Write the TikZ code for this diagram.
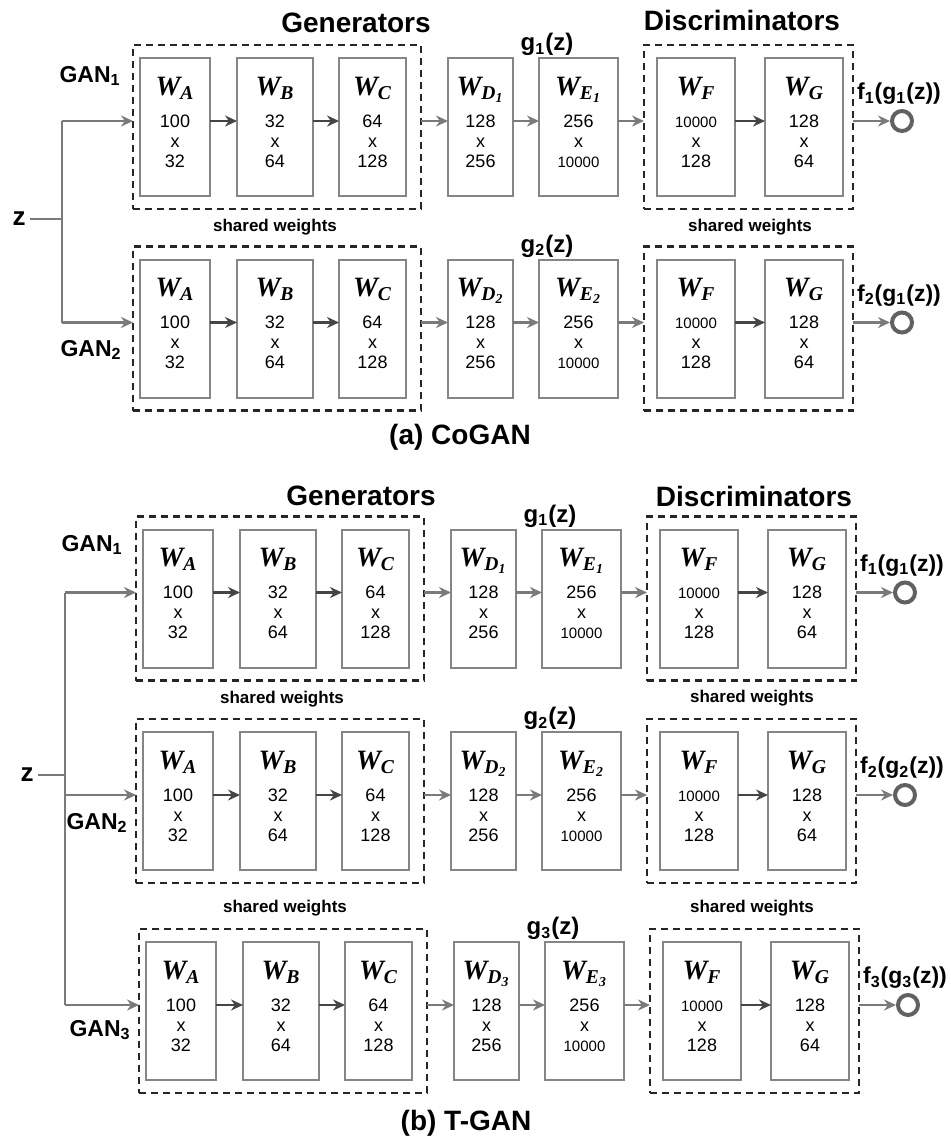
\documentclass[tikz,border=0pt]{standalone}
\usepackage{fontspec}
\setmainfont{Liberation Sans}
\newfontfamily\wserif{Liberation Serif}
\usetikzlibrary{arrows.meta,calc,positioning,fit}

\definecolor{boxgray}{HTML}{858585}
\definecolor{linegray}{HTML}{7A7A7A}
\definecolor{arrowdark}{HTML}{454545}
\definecolor{dashblack}{HTML}{262626}

\newcommand{\wl}[1]{\smash{\wserif\fontsize{14}{16}\selectfont\bfseries\itshape W\textsubscript{#1}}}
\newcommand{\smallnum}[1]{{\fontsize{7.5}{10}\selectfont #1}}
\newcommand{\wcell}[3]{\begin{tabular}[t]{@{}c@{}}\wl{#1}\\[6pt]#2\\x\\#3\end{tabular}}

% one GAN row: prefix, x, y, index, output label
\newcommand{\ganrow}[5]{%
  \node[wbox, minimum width=35pt] (#1a) at (#2,#3) {\wcell{A}{100}{32}};
  \node[wbox, minimum width=38pt, right=13.5pt of #1a] (#1b) {\wcell{B}{32}{64}};
  \node[wbox, minimum width=33.5pt, right=13pt of #1b] (#1c) {\wcell{C}{64}{128}};
  \node[wbox, minimum width=32.5pt, right=21pt of #1c] (#1d) {\wcell{D\textsubscript{#4}}{128}{256}};
  \node[wbox, minimum width=39.5pt, right=13pt of #1d] (#1e) {\wcell{E\textsubscript{#4}}{256}{\smallnum{10000}}};
  \node[wbox, minimum width=39pt, right=19.5pt of #1e] (#1f) {\wcell{F}{\smallnum{10000}}{128}};
  \node[wbox, minimum width=39pt, right=15pt of #1f] (#1g) {\wcell{G}{128}{64}};
  \node[dbox, fit=(#1a)(#1c), inner xsep=5.5pt, xshift=2pt] (#1gen) {};
  \node[dbox, fit=(#1f)(#1g), inner xsep=5.75pt, xshift=-0.75pt] (#1dis) {};
  \coordinate (#1in) at ([yshift=3pt]#1gen.west);
  \node[outc] (#1out) at ([xshift=24.5pt, yshift=3pt]#1dis.east) {};
  \node[flab, above=1pt of #1out, xshift=-1.5pt] {#5};
  \node[glab, anchor=south] at ([xshift=4pt]#1e.north west) {g\textsubscript{#4}(z)};
  \draw[darkflow] ([yshift=3pt]#1a.east) -- ([yshift=3pt]#1b.west);
  \draw[darkflow] ([yshift=3pt]#1b.east) -- ([yshift=3pt]#1c.west);
  \draw[flow] ([yshift=3pt]#1gen.east) -- ([yshift=3pt]#1d.west);
  \draw[flow] ([yshift=3pt]#1d.east) -- ([yshift=3pt]#1e.west);
  \draw[flow] ([yshift=3pt]#1e.east) -- ([yshift=3pt]#1dis.west);
  \draw[darkflow] ([yshift=3pt]#1f.east) -- ([yshift=3pt]#1g.west);
  \draw[flow] ([yshift=3pt]#1dis.east) -- (#1out);
}

\begin{document}
\begin{tikzpicture}[x=0.5pt, y=-0.5pt,
  wbox/.style={draw=boxgray, line width=1pt, inner sep=0pt, outer sep=0pt, text height=18.5pt, text depth=50.5pt, font=\fontsize{9}{10}\selectfont},
  dbox/.style={draw=dashblack, line width=1.3pt, dash pattern=on 3.5pt off 2.5pt, inner ysep=6.5pt, outer sep=0pt},
  flow/.style={-{Stealth[length=6pt, width=5.5pt]}, draw=linegray, line width=1.1pt},
  darkflow/.style={-{Stealth[length=6pt, width=5.5pt]}, draw=arrowdark, line width=1.3pt},
  wire/.style={draw=linegray, line width=1.1pt},
  outc/.style={circle, draw=arrowdark!85, line width=2pt, minimum size=10pt, inner sep=0pt},
  flab/.style={inner sep=1pt, font=\bfseries\fontsize{11.5}{14}\selectfont},
  glab/.style={inner sep=1pt, font=\bfseries\fontsize{12}{14}\selectfont},
  title/.style={font=\bfseries\fontsize{14}{16}\selectfont},
  share/.style={font=\bfseries\fontsize{8.5}{10}\selectfont},
  ganlab/.style={anchor=east, inner sep=0pt, font=\bfseries\fontsize{11.5}{13}\selectfont},
  zlab/.style={inner sep=2pt, font=\bfseries\fontsize{13}{15}\selectfont}]
  \useasboundingbox (0,0) rectangle (950,1136);

  % (a) CoGAN
  \ganrow{c1}{175}{127}{1}{f\textsubscript{1}(g\textsubscript{1}(z))}
  \ganrow{c2}{175}{328.5}{2}{f\textsubscript{2}(g\textsubscript{1}(z))}
  \node[title] at (356,23) {Generators};
  \node[title] at (742,20) {Discriminators};
  \node[share] at (275,227) {shared weights};
  \node[share] at (750,227) {shared weights};
  \node[ganlab] at (121,76) {GAN\textsubscript{1}};
  \node[ganlab] at (122,350) {GAN\textsubscript{2}};
  \node[zlab] (cz) at (19,219) {z};
  \coordinate (cj) at (62,219);
  \draw[wire] (cz) -- (cj);
  \draw[wire] (cj |- c1in) -- (cj |- c2in);
  \draw[flow] (cj |- c1in) -- (c1in);
  \draw[flow] (cj |- c2in) -- (c2in);
  \node[title] at (460,437) {(a) CoGAN};

  % (b) T-GAN
  \ganrow{t1}{178}{598.5}{1}{f\textsubscript{1}(g\textsubscript{1}(z))}
  \ganrow{t2}{178}{801}{2}{f\textsubscript{2}(g\textsubscript{2}(z))}
  \ganrow{t3}{181}{1011}{3}{f\textsubscript{3}(g\textsubscript{3}(z))}
  \node[title] at (361,496) {Generators};
  \node[title] at (754,496) {Discriminators};
  \node[share] at (282,699) {shared weights};
  \node[share] at (752,698) {shared weights};
  \node[share] at (285,908) {shared weights};
  \node[share] at (752,908) {shared weights};
  \node[ganlab] at (123,545) {GAN\textsubscript{1}};
  \node[ganlab] at (128,823) {GAN\textsubscript{2}};
  \node[ganlab] at (131,1030) {GAN\textsubscript{3}};
  \node[zlab] (tz) at (27,775) {z};
  \coordinate (tj) at (65,775);
  \draw[wire] (tz) -- (tj);
  \draw[wire] (tj |- t1in) -- (tj |- t3in);
  \draw[flow] (tj |- t1in) -- (t1in);
  \draw[flow] (tj |- t2in) -- (t2in);
  \draw[flow] (tj |- t3in) -- (t3in);
  \node[title] at (466,1123) {(b) T-GAN};
\end{tikzpicture}
\end{document}
